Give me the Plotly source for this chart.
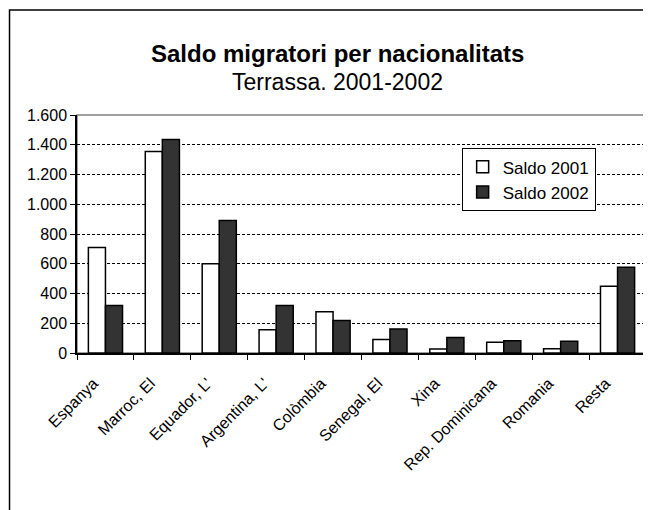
import plotly.graph_objects as go

# data
paisos = ["Espanya", "Marroc, El", "Equador, L'", "Argentina, L'", "Colòmbia",
          "Senegal, El", "Xina", "Rep. Dominicana", "Romania", "Resta"]
saldo_2001 = [710, 1355, 600, 157, 278, 90, 27, 72, 29, 449]
saldo_2002 = [320, 1436, 890, 320, 218, 162, 105, 83, 79, 577]

font_family = "Liberation Sans, Arial, sans-serif"

fig = go.Figure()

fig.add_trace(go.Bar(
    x=paisos, y=saldo_2001, name="Saldo 2001",
    marker=dict(color="white", line=dict(color="black", width=1.5)),
))
fig.add_trace(go.Bar(
    x=paisos, y=saldo_2002, name="Saldo 2002",
    marker=dict(color="#333333", line=dict(color="black", width=1.5)),
))

# page body has an 8px margin, so the figure is sized/offset for that
fig.update_layout(
    width=643, height=502,
    margin=dict(l=69, r=5, t=107, b=157),
    paper_bgcolor="white", plot_bgcolor="white",
    font=dict(family=font_family, size=16, color="black"),
    separators=",.",
    barmode="group", bargap=0.4, bargroupgap=0,
    showlegend=True,
    legend=dict(
        x=0.676, y=0.86, xanchor="left", yanchor="top",
        bordercolor="black", borderwidth=1, bgcolor="white",
        font=dict(size=17), traceorder="normal",
        itemwidth=30, tracegroupgap=0,
    ),
    annotations=[
        dict(text="<b>Saldo migratori per nacionalitats</b>", xref="paper", yref="paper",
             x=0.457, y=1.26, xanchor="center", yanchor="middle",
             showarrow=False, font=dict(size=24)),
        dict(text="Terrassa. 2001-2002", xref="paper", yref="paper",
             x=0.457, y=1.137, xanchor="center", yanchor="middle",
             showarrow=False, font=dict(size=23)),
    ],
    shapes=[
        # outer chart frame (cut off at right and bottom)
        dict(type="rect", xref="paper", yref="paper",
             x0=-0.1186, y0=-1.0, x1=1.2, y1=1.441,
             line=dict(color="black", width=1.5), layer="below"),
        # grey border of plot area
        dict(type="rect", xref="x domain", yref="y domain",
             x0=0, y0=0, x1=1, y1=1,
             line=dict(color="#808080", width=1.5), layer="below"),
    ],
)

fig.update_xaxes(
    showline=True, linecolor="black", linewidth=1.5,
    ticks="outside", ticklen=5, tickcolor="black", tickson="boundaries",
    tickangle=-45, showgrid=False, tickfont=dict(size=16),
    ticklabelstandoff=13, ticklabelshift=-12,
)
fig.update_yaxes(
    range=[0, 1600], dtick=200, tickformat=",d",
    showline=True, linecolor="black", linewidth=1.5,
    ticks="outside", ticklen=5, tickcolor="black",
    showgrid=True, gridcolor="black", gridwidth=1, griddash="3px,2px",
    zeroline=False, tickfont=dict(size=16),
)

fig.write_html("out.html")
